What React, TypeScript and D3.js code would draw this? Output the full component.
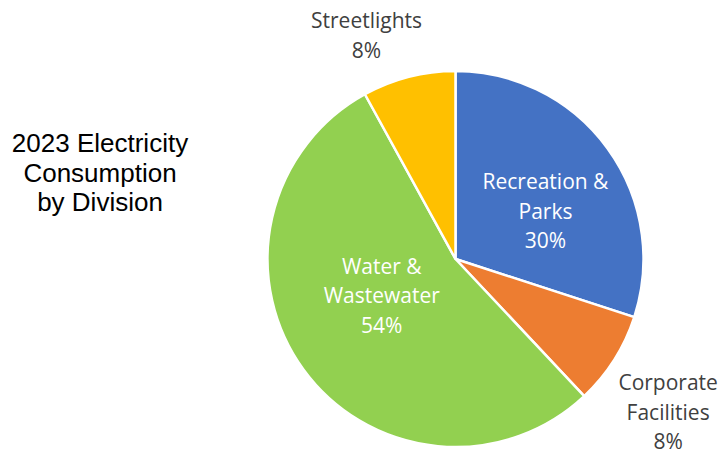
import React from "react";
import * as d3 from "d3";

const categories = ["Recreation & Parks", "Corporate Facilities", "Water & Wastewater", "Streetlights"];
const values = [30, 8, 54, 8];
const labelLines = [
  ["Recreation &", "Parks"],
  ["Corporate", "Facilities"],
  ["Water &", "Wastewater"],
  ["Streetlights"],
];
const colors = ["#4472C4", "#ED7D31", "#92D050", "#FFC000"];
const titleLines = ["2023 Electricity", "Consumption", "by Division"];

// layout: label radius and angle shift (degrees) per slice, inside flag
const labelLayout = [
  { r: 98.5, shift: 12, inside: true },
  { r: 266.6, shift: 4.7, inside: false },
  { r: 86, shift: 5, inside: true },
  { r: 233.5, shift: -8, inside: false },
];

export default function App() {
  const W = 718, H = 452;
  const cx = 455.5, cy = 259, R = 188;
  const pie = d3.pie<number>().sort(null).value((d) => d);
  const arcs = pie(values);
  const arc = d3.arc<d3.PieArcDatum<number>>().innerRadius(0).outerRadius(R);
  const total = d3.sum(values);
  const lineH = 29.5;

  return (
    <svg width={W} height={H} style={{ position: "absolute", left: 0, top: 0 }}>
      <rect width={W} height={H} fill="#fff" />
      <g fontFamily="'Liberation Sans', Arial, sans-serif" fontSize={26} fill="#000" textAnchor="middle">
        {titleLines.map((t, i) => (
          <text key={i} x={100} y={152 + i * lineH}>{t}</text>
        ))}
      </g>
      <g transform={`translate(${cx},${cy})`}>
        {arcs.map((a, i) => (
          <path key={i} d={arc(a) || ""} fill={colors[i]} stroke="#fff" strokeWidth={2.5} strokeLinejoin="round" />
        ))}
        {arcs.map((a, i) => {
          const L = labelLayout[i];
          const mid = (a.startAngle + a.endAngle) / 2 + (L.shift * Math.PI) / 180;
          const x = L.r * Math.sin(mid);
          const y = -L.r * Math.cos(mid);
          const lines = [...labelLines[i], `${d3.format(".0f")((values[i] / total) * 100)}%`];
          const midIdx = lines.length === 2 ? 0.5 : 1;
          return (
            <g key={"l" + i} fontFamily="'Open Sans', sans-serif" fontSize={21} textAnchor="middle" fill={L.inside ? "#fff" : "#404040"}>
              {lines.map((t, j) => (
                <text key={j} x={x} y={y + (j - midIdx) * 29.5}>{t}</text>
              ))}
            </g>
          );
        })}
      </g>
    </svg>
  );
}
